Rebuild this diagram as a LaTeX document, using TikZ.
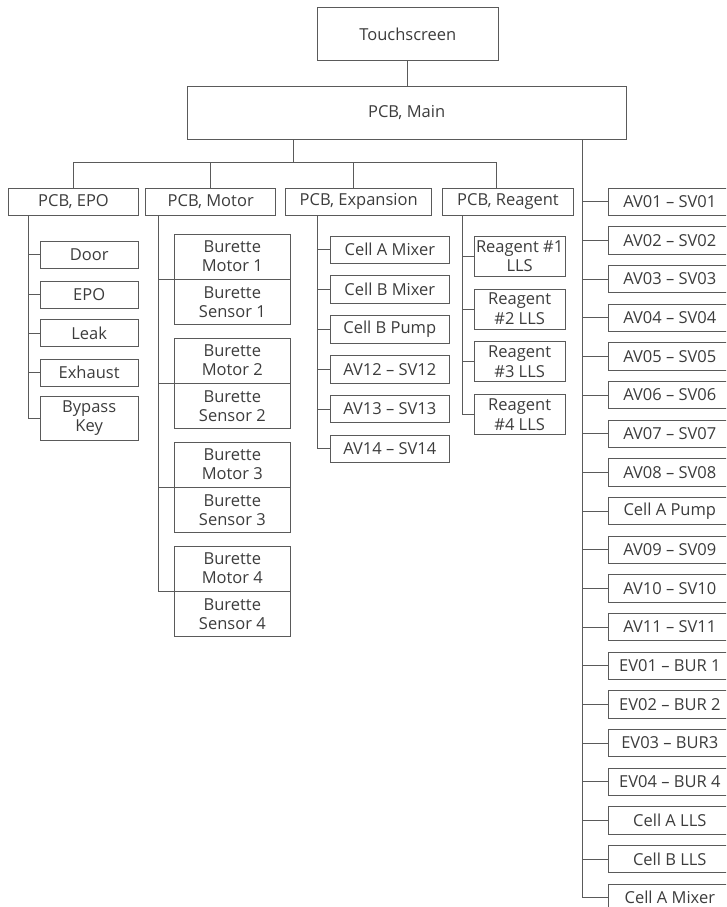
\documentclass[tikz,border=0pt]{standalone}
\usepackage{fontspec}
\setmainfont{Open Sans}
\usetikzlibrary{positioning}
\definecolor{chartLine}{HTML}{5A5A5A}
\definecolor{chartText}{HTML}{3C3C3C}

\begin{document}
\begin{tikzpicture}[x=1pt,y=-1pt,
    font=\fontsize{16.5}{19.5}\selectfont,
    box/.style={draw=chartLine,line width=0.8pt,text=chartText,
                inner sep=0pt,align=center,minimum height=27.5pt},
    wire/.style={draw=chartLine,line width=0.8pt}]
  \clip (0,0) rectangle (726,907);

  % top of the tree
  \node[box,minimum width=181pt,minimum height=53.4pt] (touch) at (407.8,34) {Touchscreen};
  \node[box,minimum width=438.7pt,minimum height=52.6pt] (main) at (406.65,113) {PCB, Main};
  \draw[wire] (touch.south) -- (touch.south |- main.north);

  % boards
  \node[box,minimum width=130.4pt] (epo) at (73.5,201.65) {PCB, EPO};
  \node[box,minimum width=130pt] (motor) at (210.7,201.65) {PCB, Motor};
  \node[box,minimum width=146pt] (expn) at (358.7,201.65) {PCB, Expansion};
  \node[box,minimum width=130.6pt] (reag) at (508,201.65) {PCB, Reagent};

  \coordinate (bus) at (293,162.7);
  \coordinate (dropE) at (353.3,162.7);
  \coordinate (dropR) at (496.7,162.7);
  \draw[wire] (main.south -| bus) -- (bus);
  \draw[wire] (epo.north) |- (dropR) -- (dropR |- reag.north);
  \draw[wire] (motor.north) -- (motor.north |- bus);
  \draw[wire] (dropE) -- (dropE |- expn.north);

  % valves on the main board
  \coordinate (rtrunk) at (582.3,139.3);
  \foreach \lbl [count=\i from 0] in {AV01 – SV01, AV02 – SV02, AV03 – SV03,
      AV04 – SV04, AV05 – SV05, AV06 – SV06, AV07 – SV07, AV08 – SV08,
      Cell A Pump, AV09 – SV09, AV10 – SV10, AV11 – SV11, EV01 – BUR 1,
      EV02 – BUR 2, EV03 – BUR3, EV04 – BUR 4, Cell A LLS, Cell B LLS,
      Cell A Mixer}
    \node[box,minimum width=123pt] (r\i) at (669.8,{201.65+38.67*\i}) {\lbl};
  \foreach \i in {0,...,18}
    \draw[wire] (r\i.west) -- (r\i.west -| rtrunk);
  \draw[wire] (rtrunk) -- (rtrunk |- r18.west);

  % EPO board
  \coordinate (etrunk) at (28.3,215.3);
  \foreach \lbl/\yc [count=\i] in {Door/254.65, EPO/294.65, Leak/333, Exhaust/372.8}
    \node[box,minimum width=97.7pt] (e\i) at (89.15,\yc) {\lbl};
  \node[box,minimum width=97.7pt,minimum height=43.3pt] (e5) at (89.15,418.3) {Bypass\\Key};
  \foreach \i in {1,...,5}
    \draw[wire] (e\i.west) -- (e\i.west -| etrunk);
  \draw[wire] (etrunk) -- (etrunk |- e5.west);

  % motor board
  \coordinate (mtrunk) at (158.3,215.3);
  \foreach \n in {1,...,4} {
    \node[box,minimum width=115.3pt,minimum height=45pt,anchor=south] (bm\n)
      at (232.35,{279.3+104*(\n-1)}) {Burette\\Motor \n};
    \node[box,minimum width=115.3pt,minimum height=45pt,below=0pt of bm\n] (bs\n)
      {Burette\\Sensor \n};
    \draw[wire] (bm\n.south west) -- (bm\n.south west -| mtrunk);
  }
  \draw[wire] (mtrunk) -- (mtrunk |- bm4.south);

  % expansion board
  \coordinate (xtrunk) at (317.7,215.3);
  \foreach \lbl [count=\i from 0] in {Cell A Mixer, Cell B Mixer, Cell B Pump,
      AV12 – SV12, AV13 – SV13, AV14 – SV14}
    \node[box,minimum width=119pt] (x\i) at (389.8,{249.8+39.8*\i}) {\lbl};
  \foreach \i in {0,...,5}
    \draw[wire] (x\i.west) -- (x\i.west -| xtrunk);
  \draw[wire] (xtrunk) -- (xtrunk |- x5.west);

  % reagent board
  \coordinate (gtrunk) at (462.3,215.3);
  \foreach \lbl [count=\i from 0] in {Reagent \#1\\LLS, Reagent\\\#2 LLS,
      Reagent\\\#3 LLS, Reagent\\\#4 LLS}
    \node[box,minimum width=90.7pt,minimum height=40pt] (g\i) at (519.65,{256+52.9*\i}) {\lbl};
  \foreach \i in {0,...,3}
    \draw[wire] (g\i.west) -- (g\i.west -| gtrunk);
  \draw[wire] (gtrunk) -- (gtrunk |- g3.west);
\end{tikzpicture}
\end{document}
